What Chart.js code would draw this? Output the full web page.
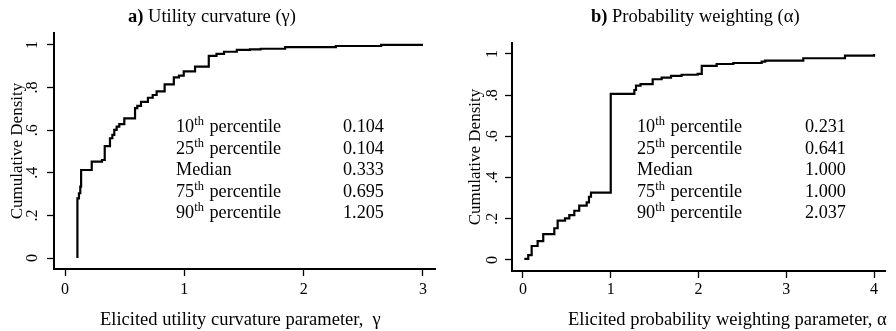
<!DOCTYPE html>
<html>
<head>
<meta charset="utf-8">
<script src="https://cdn.jsdelivr.net/npm/chart.js@4/dist/chart.umd.min.js"></script>
<style>
  html, body { margin:0; padding:0; background:#fff; }
  #wrap { position:relative; width:896px; height:331px; background:#fff; overflow:hidden; }
  .panel { position:absolute; top:0; width:448px; height:331px; }
  .panel canvas { position:absolute; left:0; top:0; }
  .txt { position:absolute; font-family:'Liberation Serif', 'Times New Roman', serif; color:#000; white-space:pre; font-size:18.5px; line-height:20px; }
  .stats { position:absolute; font-family:'Liberation Serif', 'Times New Roman', serif; color:#000; font-size:18.2px; }
  .stats .row { position:relative; height:21.5px; line-height:21.5px; white-space:nowrap; }
  .stats .val { position:absolute; top:0; }
  .stats sup { font-size:12.5px; vertical-align:baseline; position:relative; top:-7px; margin-right:1px; }
</style>
</head>
<body>
<div id="wrap">
  <div class="panel" id="p1" style="left:0">
    <canvas id="c1" width="448" height="331"></canvas>
    <div class="txt" style="left:128px; top:6px"><b>a)</b> Utility curvature (γ)</div>
    <div class="txt" style="left:100px; top:309px">Elicited utility curvature parameter,  γ</div>
    <div class="stats" id="s1" style="left:176px; top:116px"></div>
  </div>
  <div class="panel" id="p2" style="left:448px">
    <canvas id="c2" width="448" height="331"></canvas>
    <div class="txt" style="left:143px; top:6px"><b>b)</b> Probability weighting (α)</div>
    <div class="txt" style="left:120px; top:309px">Elicited probability weighting parameter, α</div>
    <div class="stats" id="s2" style="left:189px; top:116px"></div>
  </div>
</div>
<script>
// ---- Data ----
// Panel a: empirical CDF of elicited utility curvature (gamma)
const gammaX = [0.104, 0.104, 0.117, 0.128, 0.135, 0.224, 0.31, 0.333, 0.377, 0.397, 0.413, 0.433, 0.455, 0.497, 0.587, 0.606, 0.637, 0.695, 0.735, 0.768, 0.835, 0.912, 0.955, 0.995, 1.09, 1.205, 1.27, 1.333, 1.44, 1.55, 1.64, 1.845, 2.27, 2.65, 3.0];
const gammaCDF = [0, 0.28, 0.304, 0.335, 0.413, 0.452, 0.46, 0.525, 0.562, 0.578, 0.601, 0.617, 0.628, 0.655, 0.703, 0.714, 0.733, 0.752, 0.765, 0.782, 0.815, 0.848, 0.856, 0.876, 0.898, 0.949, 0.958, 0.968, 0.977, 0.979, 0.982, 0.99, 0.995, 1.0, 1.0];
// Panel b: empirical CDF of elicited probability weighting (alpha)
const alphaX = [0.015, 0.06, 0.099, 0.167, 0.231, 0.357, 0.395, 0.479, 0.528, 0.585, 0.641, 0.726, 0.752, 0.775, 1.0, 1.269, 1.288, 1.34, 1.478, 1.58, 1.687, 1.808, 1.99, 2.037, 2.207, 2.397, 2.72, 2.76, 3.194, 3.669, 4.0];
const alphaCDF = [0.005, 0.024, 0.068, 0.092, 0.126, 0.154, 0.191, 0.202, 0.218, 0.239, 0.264, 0.28, 0.307, 0.327, 0.806, 0.825, 0.846, 0.853, 0.877, 0.885, 0.893, 0.899, 0.903, 0.942, 0.951, 0.956, 0.963, 0.967, 0.979, 0.992, 1.0];

const yTickValues = [0, 0.2, 0.4, 0.6, 0.8, 1];
const yTickLabels = ['0', '.2', '.4', '.6', '.8', '1'];
const gammaXTicks = [0, 1, 2, 3];
const alphaXTicks = [0, 1, 2, 3, 4];

const statLabels = ['10th percentile', '25th percentile', 'Median', '75th percentile', '90th percentile'];
const gammaStats = ['0.104', '0.104', '0.333', '0.695', '1.205'];
const alphaStats = ['0.231', '0.641', '1.000', '1.000', '2.037'];

// ---- Stats tables ----
function fillStats(el, values, valueLeft) {
  el.innerHTML = statLabels.map((lab, i) =>
    '<div class="row">' + lab.replace(/(\d+)th/, '$1<sup>th</sup>') +
    '<span class="val" style="left:' + valueLeft + 'px">' + values[i] + '</span></div>'
  ).join('');
}
fillStats(document.getElementById('s1'), gammaStats, 167);
fillStats(document.getElementById('s2'), alphaStats, 168);

// ---- Charts ----
const FONT = 'Liberation Serif';
function makeChart(id, xs, ys, xTicks, g) {
  new Chart(document.getElementById(id), {
    type: 'line',
    data: {
      datasets: [{
        data: xs.map((x, i) => ({ x: x, y: ys[i] })),
        stepped: 'before',
        borderColor: '#000',
        borderWidth: 2.2,
        pointRadius: 0,
        fill: false,
        tension: 0
      }]
    },
    options: {
      responsive: false,
      animation: false,
      devicePixelRatio: 1,
      layout: { padding: { top: g.top, right: g.right, left: 0, bottom: 0 } },
      plugins: { legend: { display: false }, tooltip: { enabled: false }, title: { display: false } },
      scales: {
        x: {
          type: 'linear',
          min: g.xmin, max: g.xmax,
          afterBuildTicks: s => { s.ticks = xTicks.map(v => ({ value: v })); },
          afterFit: s => { s.height = g.xh; },
          grid: { display: true, drawOnChartArea: false, drawTicks: true, tickLength: 7, tickWidth: 1.3, tickColor: '#000' },
          border: { display: true, color: '#000', width: 2 },
          ticks: { color: '#000', font: { family: FONT, size: 16 }, padding: g.xpad, maxRotation: 0, autoSkip: false,
                   callback: (v) => String(v) }
        },
        y: {
          type: 'linear',
          min: g.ymin, max: g.ymax,
          afterBuildTicks: s => { s.ticks = yTickValues.map(v => ({ value: v })); },
          afterFit: s => { s.width = g.yw; },
          grid: { display: true, drawOnChartArea: false, drawTicks: true, tickLength: 7, tickWidth: 1.3, tickColor: '#000' },
          border: { display: true, color: '#000', width: 2 },
          ticks: { color: '#000', font: { family: FONT, size: 16 }, padding: g.ypad, minRotation: 90, maxRotation: 90,
                   crossAlign: 'center', autoSkip: false,
                   callback: (v, i) => yTickLabels[i] },
          title: { display: true, text: 'Cumulative Density', color: '#000', font: { family: FONT, size: 17 },
                   padding: { top: g.ytp, bottom: 0 } }
        }
      }
    }
  });
}

makeChart('c1', gammaX, gammaCDF, gammaXTicks,
  { top: 33, right: 13, xh: 62, yw: 54, xmin: -0.0922, xmax: 3.101, ymin: -0.0516, ymax: 1.056, xpad: 4, ypad: 8, ytp: 7 });
makeChart('c2', alphaX, alphaCDF, alphaXTicks,
  { top: 43, right: 11, xh: 60, yw: 64, xmin: -0.125, xmax: 4.125, ymin: -0.0534, ymax: 1.053, xpad: 2, ypad: 6, ytp: 17 });
</script>
</body>
</html>
